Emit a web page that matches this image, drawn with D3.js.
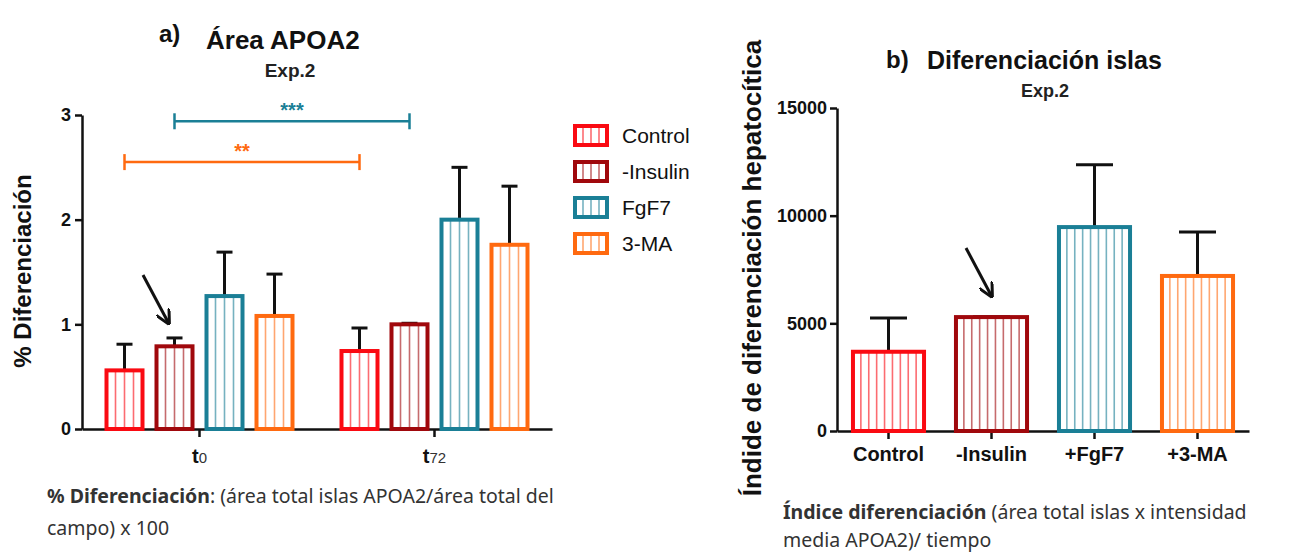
<!DOCTYPE html>
<html lang="es">
<head>
  <meta charset="UTF-8">
  <script src="https://cdn.jsdelivr.net/npm/d3@7"></script>
  <title>Área APOA2 / Diferenciación islas</title>
  <style>
    body { margin: 0; background: #fff; }
    svg { display: block; }
    text { font-family: 'Liberation Sans', Arial, sans-serif; }
    .axis path, .axis line { stroke: #111; stroke-width: 2.5; }
    .axis text { font-size: 18px; font-weight: bold; fill: #111; }
    .note { font-family: 'Liberation Sans Narrow', 'Noto Sans', sans-serif; font-size: 19.5px; fill: #333; }
  </style>
</head>
<body>
<script>
  // ---- data ----
  const series = ['Control', '-Insulin', 'FgF7', '3-MA'];
  const colors = ['#fa0a12', '#a0080c', '#1a7f96', '#ff6a10'];

  // panel a
  const timepoints = ['t0', 't72'];
  const areaMean = { t0: [0.56, 0.79, 1.27, 1.08], t72: [0.745, 1.0, 2.0, 1.76] };
  const areaErr  = { t0: [0.81, 0.87, 1.69, 1.48], t72: [0.965, 1.01, 2.5, 2.32] };
  const areaTicks = [0, 1, 2, 3];

  // panel b
  const groupsB = ['Control', '-Insulin', '+FgF7', '+3-MA'];
  const indexMean = [3680, 5290, 9470, 7200];
  const indexErr  = [5250, 5300, 12360, 9240];
  const indexTicks = [0, 5000, 10000, 15000];

  const W = 1301, H = 554;
  const svg = d3.select('body').append('svg').attr('width', W).attr('height', H);

  const defs = svg.append('defs');
  const arrowM = defs.append('marker').attr('id', 'arr').attr('viewBox', '0 0 10 10')
    .attr('refX', 8).attr('refY', 5).attr('markerWidth', 5).attr('markerHeight', 5)
    .attr('orient', 'auto');
  arrowM.append('path').attr('d', 'M0,0 L10,5 L0,10').attr('fill', 'none')
    .attr('stroke', '#111').attr('stroke-width', 2);

  // striped outlined bar
  function stripedBar(g, x, y, w, h, color, nLines) {
    const step = w / (nLines + 1);
    g.append('g').selectAll('line').data(d3.range(1, nLines + 1)).enter().append('line')
      .attr('x1', d => x + d * step).attr('x2', d => x + d * step)
      .attr('y1', y).attr('y2', y + h)
      .attr('stroke', color).attr('stroke-opacity', 0.6).attr('stroke-width', 1.6);
    g.append('rect').attr('x', x).attr('y', y).attr('width', w).attr('height', h)
      .attr('fill', 'none').attr('stroke', color).attr('stroke-width', 4);
  }

  function errBar(g, cx, yTop, yEnd, cap) {
    g.append('line').attr('x1', cx).attr('x2', cx).attr('y1', yTop).attr('y2', yEnd)
      .attr('stroke', '#111').attr('stroke-width', 3);
    g.append('line').attr('x1', cx - cap / 2).attr('x2', cx + cap / 2).attr('y1', yEnd).attr('y2', yEnd)
      .attr('stroke', '#111').attr('stroke-width', 3);
  }

  // ================= panel a =================
  const ga = svg.append('g');
  const xa = d3.scaleBand().domain(timepoints).range([82, 552]);
  const xa1 = d3.scaleBand().domain(series).range([-100, 100]).paddingInner(0.28).paddingOuter(0.14);
  const ya = d3.scaleLinear().domain([0, 3]).range([429, 115]);

  ga.append('g').attr('class', 'axis').attr('transform', 'translate(82,0)')
    .call(d3.axisLeft(ya).tickValues(areaTicks).tickFormat(d3.format('d')).tickSize(7).tickSizeOuter(0).tickPadding(4));
  ga.append('g').attr('class', 'axis').attr('transform', 'translate(0,429)')
    .call(d3.axisBottom(xa).tickSize(8).tickSizeOuter(0).tickFormat(''));

  // t0 / t72 labels with small digits
  timepoints.forEach(t => {
    const tx = ga.append('text').attr('x', xa(t) + xa.bandwidth() / 2).attr('y', 463)
      .attr('text-anchor', 'middle').style('font-size', '20px').style('fill', '#111');
    tx.append('tspan').text('t').style('font-weight', 'bold');
    tx.append('tspan').text(t.slice(1)).style('font-size', '15px').style('fill', '#333');
  });

  timepoints.forEach(t => {
    series.forEach((s, i) => {
      const x0 = xa(t) + xa.bandwidth() / 2 + xa1(s);
      const cx = x0 + xa1.bandwidth() / 2;
      errBar(ga, cx, ya(areaMean[t][i]), ya(areaErr[t][i]), 16);
      stripedBar(ga, x0, ya(areaMean[t][i]), xa1.bandwidth(), ya(0) - ya(areaMean[t][i]), colors[i], 3);
    });
  });

  // significance brackets
  const brackets = [
    { from: ['t0', '-Insulin'], to: ['t72', '-Insulin'], y: 2.94, label: '***', color: '#1a7f96' },
    { from: ['t0', 'Control'], to: ['t72', 'Control'], y: 2.55, label: '**', color: '#ff6a10' }
  ];
  brackets.forEach(b => {
    const bx = p => xa(p[0]) + xa.bandwidth() / 2 + xa1(p[1]) + xa1.bandwidth() / 2;
    const x1 = bx(b.from), x2 = bx(b.to), yy = ya(b.y);
    ga.append('line').attr('x1', x1).attr('x2', x2).attr('y1', yy).attr('y2', yy)
      .attr('stroke', b.color).attr('stroke-width', 2.5);
    [x1, x2].forEach(xx => ga.append('line').attr('x1', xx).attr('x2', xx)
      .attr('y1', yy - 8).attr('y2', yy + 8).attr('stroke', b.color).attr('stroke-width', 2.5));
    ga.append('text').attr('x', (x1 + x2) / 2).attr('y', yy - 4).attr('text-anchor', 'middle')
      .style('font-size', '20px').style('font-weight', 'bold').style('fill', b.color).text(b.label);
  });

  // arrow pointing at -Insulin t0
  ga.append('line').attr('x1', 143).attr('y1', 275).attr('x2', 168).attr('y2', 322)
    .attr('stroke', '#111').attr('stroke-width', 3).attr('marker-end', 'url(#arr)');

  ga.append('text').attr('x', 159).attr('y', 42).style('font-size', '24px').style('font-weight', 'bold').style('fill', '#111').text('a)');
  ga.append('text').attr('x', 206).attr('y', 49).style('font-size', '26px').style('font-weight', 'bold').style('fill', '#111').text('Área APOA2');
  ga.append('text').attr('x', 290).attr('y', 77).attr('text-anchor', 'middle')
    .style('font-size', '19px').style('font-weight', 'bold').style('fill', '#222').text('Exp.2');
  ga.append('text').attr('transform', 'translate(31,271) rotate(-90)').attr('text-anchor', 'middle')
    .style('font-size', '24px').style('font-weight', 'bold').style('fill', '#111').text('% Diferenciación');

  // legend
  const lg = ga.append('g');
  series.forEach((s, i) => {
    const ly = 126 + i * 36;
    stripedBar(lg, 575, ly, 32, 19, colors[i], 3);
    lg.append('text').attr('x', 622).attr('y', ly + 17).style('font-size', '21px').style('fill', '#111').text(s);
  });

  const na = ga.append('text').attr('class', 'note').attr('x', 47).attr('y', 503);
  na.append('tspan').text('% Diferenciación').style('font-weight', 'bold');
  na.append('tspan').text(': (área total islas APOA2/área total del');
  ga.append('text').attr('class', 'note').attr('x', 47).attr('y', 535).text('campo) x 100');

  // ================= panel b =================
  const gb = svg.append('g');
  const xb = d3.scaleBand().domain(groupsB).range([837, 1249]).paddingInner(0.31).paddingOuter(0.155);
  const yb = d3.scaleLinear().domain([0, 15000]).range([431, 108]);

  gb.append('g').attr('class', 'axis').attr('transform', 'translate(837,0)')
    .call(d3.axisLeft(yb).tickValues(indexTicks).tickFormat(d3.format('d')).tickSize(7).tickSizeOuter(0).tickPadding(3));
  const xAxisB = gb.append('g').attr('class', 'axis').attr('transform', 'translate(0,431)')
    .call(d3.axisBottom(xb).tickSize(8).tickSizeOuter(0).tickPadding(8));
  xAxisB.selectAll('text').style('font-size', '20px');

  groupsB.forEach((gname, i) => {
    const x0 = xb(gname), cx = x0 + xb.bandwidth() / 2;
    errBar(gb, cx, yb(indexMean[i]), yb(indexErr[i]), 37);
    stripedBar(gb, x0, yb(indexMean[i]), xb.bandwidth(), yb(0) - yb(indexMean[i]), colors[i], 8);
  });

  gb.append('line').attr('x1', 966).attr('y1', 248).attr('x2', 991).attr('y2', 295)
    .attr('stroke', '#111').attr('stroke-width', 3).attr('marker-end', 'url(#arr)');

  gb.append('text').attr('x', 886).attr('y', 68).style('font-size', '24px').style('font-weight', 'bold').style('fill', '#111').text('b)');
  gb.append('text').attr('x', 927).attr('y', 69).style('font-size', '25px').style('font-weight', 'bold').style('fill', '#111').text('Diferenciación islas');
  gb.append('text').attr('x', 1045).attr('y', 97).attr('text-anchor', 'middle')
    .style('font-size', '18px').style('font-weight', 'bold').style('fill', '#222').text('Exp.2');
  gb.append('text').attr('transform', 'translate(761,268) rotate(-90)').attr('text-anchor', 'middle')
    .style('font-size', '26px').style('font-weight', 'bold').style('fill', '#111').text('Índide de diferenciación hepatocítica');

  const nb = gb.append('text').attr('class', 'note').attr('x', 783).attr('y', 519);
  nb.append('tspan').text('Índice diferenciación').style('font-weight', 'bold');
  nb.append('tspan').text(' (área total islas  x intensidad');
  gb.append('text').attr('class', 'note').attr('x', 783).attr('y', 547).text('media APOA2)/ tiempo');
</script>
</body>
</html>
